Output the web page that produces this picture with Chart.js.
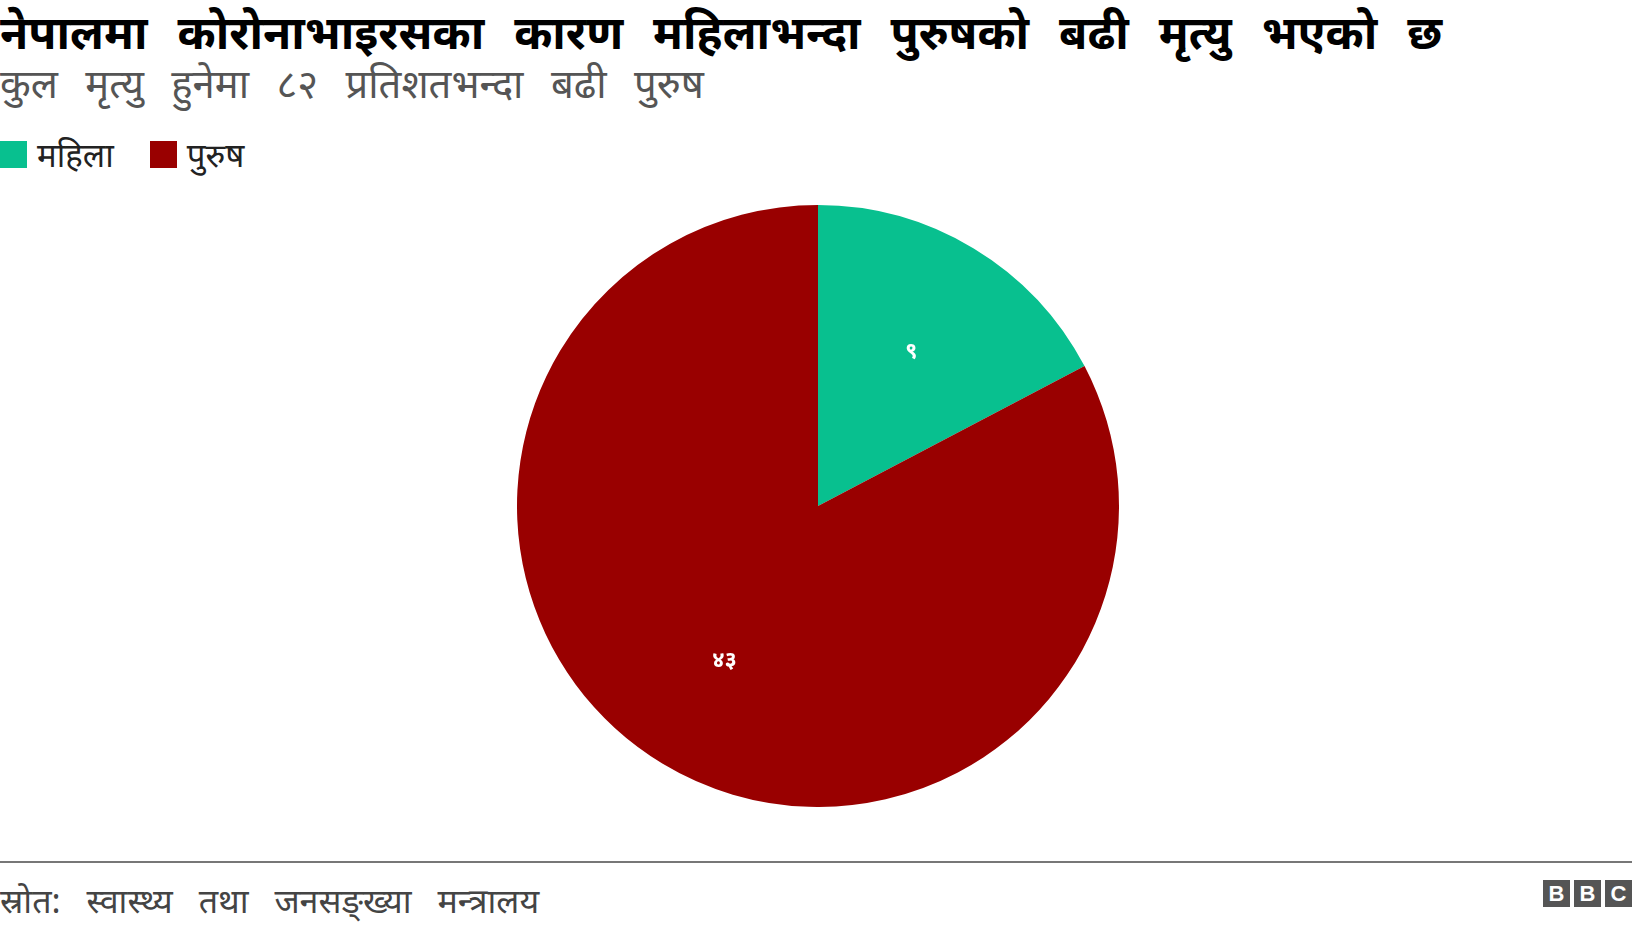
<!DOCTYPE html>
<html>
<head>
<meta charset="utf-8">
<script src="https://cdn.jsdelivr.net/npm/chart.js@4"></script>
<style>
  html, body { margin: 0; padding: 0; background: #fff; }
  body { width: 1632px; height: 928px; position: relative; overflow: hidden;
         font-family: "Noto Sans", "Noto Sans Devanagari", sans-serif; }
  #title { position: absolute; left: 0; top: 3px; font-size: 46px; font-weight: bold; color: #000; white-space: nowrap; line-height: 56px; word-spacing: 18px; }
  #subtitle { position: absolute; left: 0; top: 59px; font-size: 40px; color: #555; white-space: nowrap; line-height: 48px; word-spacing: 17px; }
  #legend { position: absolute; left: 0; top: 132px; display: flex; align-items: center; font-size: 33px; color: #222; }
  #legend .item { display: flex; align-items: center; margin-right: 36px; }
  #legend .box { width: 27px; height: 27px; margin-right: 10px; }
  #wrap { position: absolute; left: 2px; top: 205px; width: 1632px; height: 602px; }
  #rule { position: absolute; left: 0; top: 861px; width: 1632px; height: 2px; background: #777; }
  #source { position: absolute; left: 0; top: 877px; font-size: 34px; color: #444; white-space: nowrap; line-height: 46px; word-spacing: 17px; }
  #bbc { position: absolute; right: 0; top: 880px; display: flex; }
  #bbc span { width: 27px; height: 27px; margin-left: 4px; background: #555; color: #fff;
              font: bold 22px "Liberation Sans", Arial, sans-serif; text-align: center; line-height: 27px; }
</style>
</head>
<body>
<div id="title">नेपालमा कोरोनाभाइरसका कारण महिलाभन्दा पुरुषको बढी मृत्यु भएको छ</div>
<div id="subtitle">कुल मृत्यु हुनेमा ८२ प्रतिशतभन्दा बढी पुरुष</div>
<div id="legend"></div>
<div id="wrap"><canvas id="chart"></canvas></div>
<div id="rule"></div>
<div id="source">स्रोत: स्वास्थ्य तथा जनसङ्ख्या मन्त्रालय</div>
<div id="bbc"><span>B</span><span>B</span><span>C</span></div>
<script>
var labels = ["महिला", "पुरुष"];
var deaths = [9, 43];
var colors = ["#08c08f", "#990000"];

function nepaliDigits(n) {
  var d = "०१२३४५६७८९";
  return String(n).replace(/[0-9]/g, function (c) { return d[+c]; });
}

// html legend
var legend = document.getElementById("legend");
labels.forEach(function (l, i) {
  var item = document.createElement("div");
  item.className = "item";
  item.innerHTML = '<div class="box" style="background:' + colors[i] + '"></div><span>' + l + '</span>';
  legend.appendChild(item);
});

var sliceLabels = {
  id: "sliceLabels",
  afterDatasetsDraw: function (chart) {
    var ctx = chart.ctx;
    var meta = chart.getDatasetMeta(0);
    ctx.save();
    ctx.fillStyle = "#fff";
    ctx.font = "bold 22px 'Noto Sans', sans-serif";
    ctx.textAlign = "center";
    ctx.textBaseline = "middle";
    meta.data.forEach(function (arc, i) {
      var mid = (arc.startAngle + arc.endAngle) / 2;
      var r = arc.outerRadius * 0.6;
      ctx.fillText(nepaliDigits(deaths[i]), arc.x + Math.cos(mid) * r, arc.y + Math.sin(mid) * r);
    });
    ctx.restore();
  }
};

new Chart(document.getElementById("chart"), {
  type: "pie",
  data: {
    labels: labels,
    datasets: [{
      data: deaths,
      backgroundColor: colors,
      borderWidth: 0
    }]
  },
  options: {
    responsive: true,
    maintainAspectRatio: false,
    animation: false,
    layout: { padding: 0 },
    plugins: {
      legend: { display: false },
      tooltip: { enabled: false }
    }
  },
  plugins: [sliceLabels]
});
</script>
</body>
</html>
